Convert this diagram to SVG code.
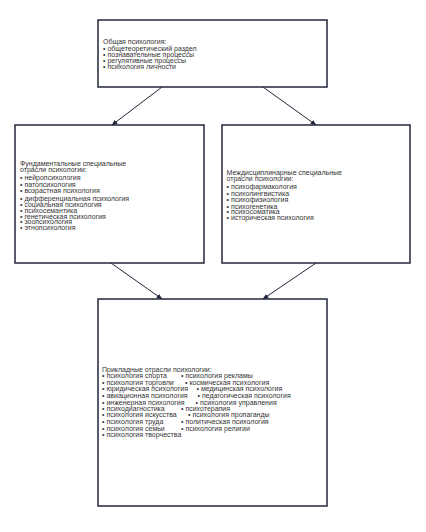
<svg xmlns="http://www.w3.org/2000/svg" width="426" height="532" viewBox="0 0 426 532">
<defs>
<style>
.box{fill:#fff;stroke:#22263a;stroke-width:1.5}
.t{font-family:"Liberation Sans",Arial,sans-serif;font-size:7px;fill:#333}
.c{stroke:#22263a;stroke-width:1;fill:none;marker-end:url(#ah)}
</style>
<marker id="ah" viewBox="0 0 10 10" refX="9" refY="5" markerWidth="6" markerHeight="6" orient="auto" markerUnits="userSpaceOnUse">
<path d="M0,1 L10,5 L0,9 z" fill="#22263a"/>
</marker>
</defs>
<rect width="426" height="532" fill="#fff"/>
<g id="connectors">
<line class="c" x1="162" y1="87" x2="112" y2="125"/>
<line class="c" x1="263" y1="87" x2="316" y2="125"/>
<line class="c" x1="111" y1="263" x2="162" y2="299"/>
<line class="c" x1="316" y1="263" x2="263" y2="299"/>
</g>
<g id="general">
<rect class="box" x="98" y="20" width="229" height="67"/>
<text class="t" x="103" y="44">Общая психология:</text>
<text class="t" x="103" y="50.5">• общетеоретический раздел</text>
<text class="t" x="103" y="56.5">• познавательные процессы</text>
<text class="t" x="103" y="62.5">• регулятивные процессы</text>
<text class="t" x="103" y="68.5">• психология личности</text>
</g>
<g id="fundamental">
<rect class="box" x="15" y="125" width="189" height="138"/>
<text class="t" x="20" y="166">Фундаментальные специальные</text>
<text class="t" x="20" y="172">отрасли психологии:</text>
<text class="t" x="20" y="180">• нейропсихология</text>
<text class="t" x="20" y="187">• патопсихология</text>
<text class="t" x="20" y="193">• возрастная психология</text>
<text class="t" x="20" y="200.5">• дифференциальная психология</text>
<text class="t" x="20" y="206.5">• социальная психология</text>
<text class="t" x="20" y="212.5">• психосемантика</text>
<text class="t" x="20" y="218.5">• генетическая психология</text>
<text class="t" x="20" y="224">• зоопсихология</text>
<text class="t" x="20" y="229.5">• этнопсихология</text>
</g>
<g id="interdisciplinary">
<rect class="box" x="222" y="125" width="188" height="138"/>
<text class="t" x="226.5" y="174.5">Междисциплинарные специальные</text>
<text class="t" x="226.5" y="180.5">отрасли психологии:</text>
<text class="t" x="226.5" y="189">• психофармакология</text>
<text class="t" x="226.5" y="195.5">• психолингвистика</text>
<text class="t" x="226.5" y="202">• психофизиология</text>
<text class="t" x="226.5" y="208.5">• психогенетика</text>
<text class="t" x="226.5" y="214">• психосоматика</text>
<text class="t" x="226.5" y="219.5">• историческая психология</text>
</g>
<g id="applied">
<rect class="box" x="98" y="299" width="229" height="207"/>
<text class="t" x="102" y="371.5">Прикладные отрасли психологии:</text>
<text class="t" x="102" y="378">• психология спорта</text><text class="t" x="181" y="378">• психология рекламы</text>
<text class="t" x="102" y="385">• психология торговли</text><text class="t" x="185" y="385">• космическая психология</text>
<text class="t" x="102" y="391.3">• юридическая психология</text><text class="t" x="196.5" y="391.3">• медицинская психология</text>
<text class="t" x="102" y="398">• авиационная психология</text><text class="t" x="197.5" y="398">• педагогическая психология</text>
<text class="t" x="102" y="404.6">• инженерная психология</text><text class="t" x="195.5" y="404.6">• психология управления</text>
<text class="t" x="102" y="410.6">• психодиагностика</text><text class="t" x="181" y="410.6">• психотерапия</text>
<text class="t" x="102" y="417.3">• психология искусства</text><text class="t" x="188" y="417.3">• психология пропаганды</text>
<text class="t" x="102" y="424">• психология труда</text><text class="t" x="181" y="424">• политическая психология</text>
<text class="t" x="102" y="430.6">• психология семьи</text><text class="t" x="181" y="430.6">• психология религии</text>
<text class="t" x="102" y="437.3">• психология творчества</text>
</g>
</svg>
